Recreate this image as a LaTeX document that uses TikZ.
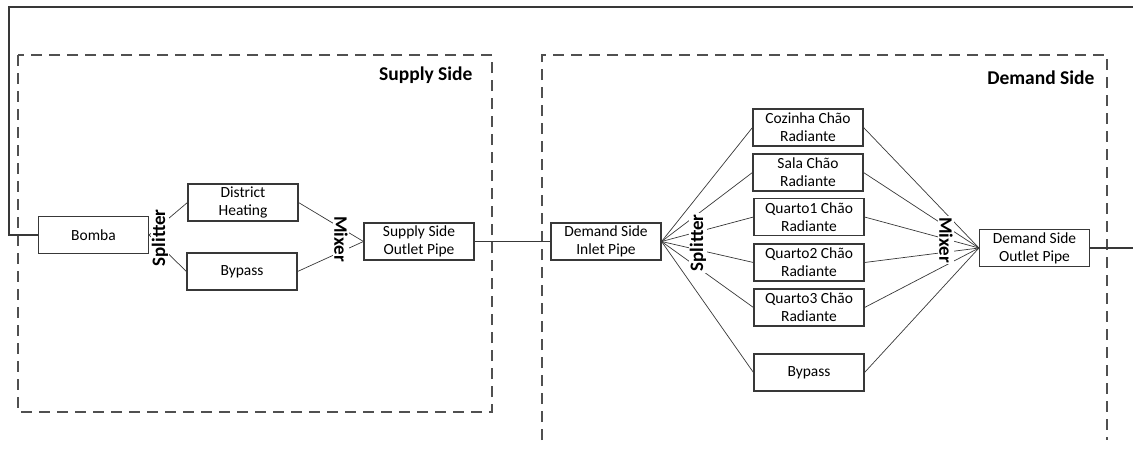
\documentclass[tikz,border=0pt]{standalone}
\usepackage{fontspec}
\setmainfont{Carlito}
\definecolor{LineGray}{HTML}{383838}
\definecolor{DashGray}{HTML}{505050}

\begin{document}
\begin{tikzpicture}[x=1pt, y=-1pt,
    comp/.style={draw=LineGray, line width=1.1pt, minimum width=110pt, minimum height=37pt,
        inner sep=0pt, align=center, font=\fontsize{15.5}{18}\selectfont},
    pipe/.style={LineGray, line width=0.7pt},
    returnline/.style={LineGray, line width=1.1pt},
    zone/.style={DashGray, line width=1.1pt, dash pattern=on 11pt off 7pt},
    zonelabel/.style={font=\bfseries\fontsize{19.5}{22}\selectfont, anchor=east},
    branch/.style={fill=white, inner sep=1pt, font=\bfseries\fontsize{19}{22}\selectfont}]
\useasboundingbox (0,0) rectangle (1133,450);

% loop boundaries
\draw[zone] (18,55) rectangle (492,412);
\draw[zone] (542,440) -- (542,55) -- (1107,55) -- (1107,440);
\node[zonelabel] (supplyTitle) at (476,75) {Supply Side};
\node[zonelabel] (demandTitle) at (1098,78) {Demand Side};

% supply side
\node[comp] (bomba) at (93.5,235) {Bomba};
\node[comp] (district) at (243,202.5) {District\\Heating};
\node[comp] (supplyBypass) at (242,271.5) {Bypass};
\node[comp] (supplyOutlet) at (419,241.5) {Supply Side\\Outlet Pipe};

% demand side
\node[comp] (demandInlet) at (606,241.5) {Demand Side\\Inlet Pipe};
\node[comp] (cozinha) at (808,127.5) {Cozinha Chão\\Radiante};
\node[comp] (sala) at (808,172.5) {Sala Chão\\Radiante};
\node[comp] (quarto1) at (809,217) {Quarto1 Chão\\Radiante};
\node[comp] (quarto2) at (809,262.5) {Quarto2 Chão\\Radiante};
\node[comp] (quarto3) at (809,307.5) {Quarto3 Chão\\Radiante};
\node[comp] (demandBypass) at (809,372.5) {Bypass};
\node[comp] (demandOutlet) at (1034.5,248) {Demand Side\\Outlet Pipe};

% plant loop
\coordinate (loopCorner) at (9,7);
\coordinate (loopEnd) at (1133,7);
\coordinate (outletEnd) at (1133,248);
\draw[returnline] (bomba.west) -| (loopCorner) -- (loopEnd);
\draw[returnline] (demandOutlet.east) -- (outletEnd);
\draw[returnline] (supplyOutlet.east) -- (demandInlet.west);

\foreach \b in {district, supplyBypass} {
    \draw[pipe] (bomba.east) -- (\b.west);
    \draw[pipe] (\b.east) -- (supplyOutlet.west);
}
\foreach \b in {cozinha, sala, quarto1, quarto2, quarto3, demandBypass} {
    \draw[pipe] (demandInlet.east) -- (\b.west);
    \draw[pipe] (\b.east) -- (demandOutlet.west);
}

\node[branch, rotate=90] (supplySplitter) at (160,238) {Splitter};
\node[branch, rotate=-90] (supplyMixer) at (341,239) {Mixer};
\node[branch, rotate=90] (demandSplitter) at (698,243) {Splitter};
\node[branch, rotate=-90] (demandMixer) at (946,240) {Mixer};
\end{tikzpicture}
\end{document}
